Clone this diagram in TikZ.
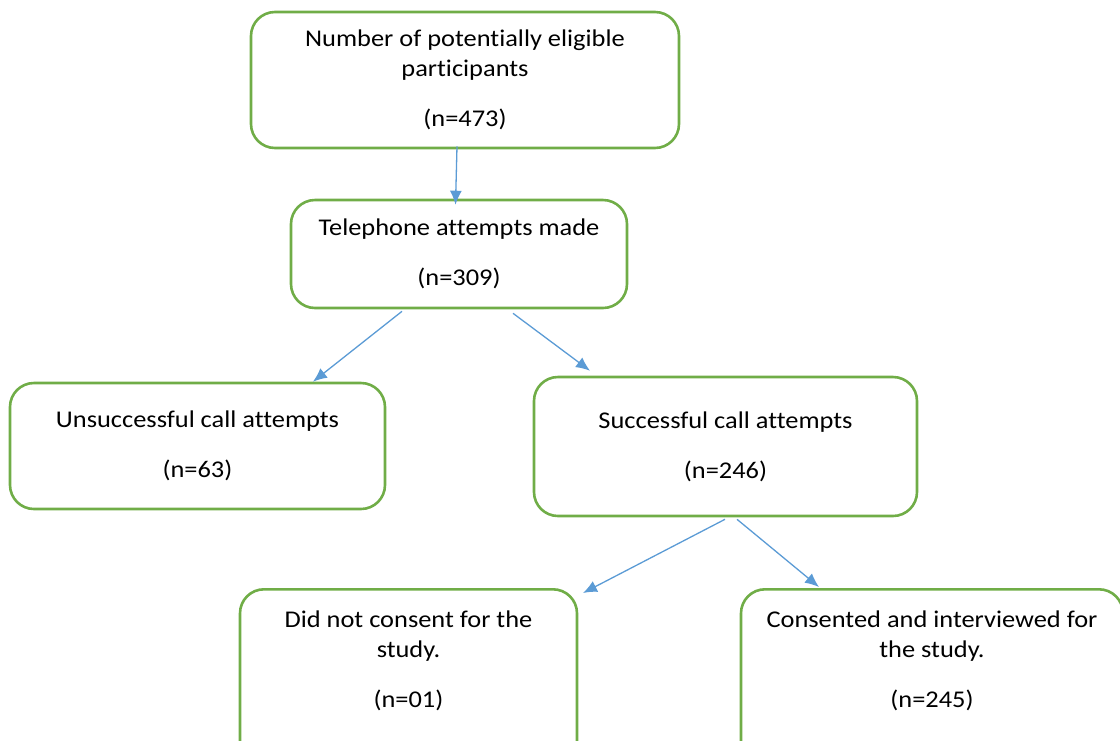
\documentclass[tikz,border=0pt]{standalone}
\usepackage{fontspec}
\setmainfont[FakeStretch=1.1, Ligatures={NoCommon}]{Carlito}
\usetikzlibrary{arrows.meta}
\definecolor{boxgreen}{RGB}{112,173,71}
\definecolor{arrowblue}{RGB}{91,155,213}
\tikzset{stage/.style = {draw=boxgreen, line width=2.6pt, rounded corners=24pt,
                         align=center, inner sep=0pt,
                         font=\fontsize{24}{30}\selectfont},
         flow/.style = {draw=arrowblue, line width=1.3pt,
                        -{Latex[length=14pt, width=12pt]}}}

\begin{document}
\begin{tikzpicture}[x=1pt, y=-1pt]
    \useasboundingbox (0, 0) rectangle (1120, 740);

    \node [stage, minimum width=428pt, minimum height=136pt] (pool) at (465, 80)
        {Number of potentially eligible\\participants\\[20pt](n=473)};
    \node [stage, minimum width=336pt, minimum height=108pt] (phone) at (459, 254)
        {Telephone attempts made\\[20pt](n=309)};
    \node [stage, minimum width=375pt, minimum height=126pt] (fail) at (197.5, 446)
        {Unsuccessful call attempts\\[20pt](n=63)};
    \node [stage, minimum width=383pt, minimum height=139pt] (reach) at (725.5, 446.5)
        {Successful call attempts\\[20pt](n=246)};
    \node [stage, minimum width=337pt, text depth=40pt, inner ysep=22pt, anchor=north] (refuse) at (408.5, 588)
        {Did not consent for the\\study.\\[20pt](n=01)};
    \node [stage, minimum width=382pt, text depth=40pt, inner ysep=22pt, anchor=north] (agree) at (932, 588)
        {Consented and interviewed for\\the study.\\[20pt](n=245)};

    \draw [flow] ([xshift=-8pt, yshift=3pt]pool.south) -- ([xshift=-3.5pt, yshift=-6pt]phone.north);
    \draw [flow] ([xshift=-57pt, yshift=-2pt]phone.south) -- ([xshift=115.5pt]fail.north);
    \draw [flow] ([xshift=54pt, yshift=-4pt]phone.south) -- ([xshift=-135.5pt, yshift=5pt]reach.north);
    \draw [flow] ([xshift=-0.5pt, yshift=-2pt]reach.south) -- ([xshift=174.5pt, yshift=-5pt]refuse.north);
    \draw [flow] ([xshift=11.5pt, yshift=-2pt]reach.south) -- ([xshift=-113pt, yshift=1pt]agree.north);
\end{tikzpicture}
\end{document}
